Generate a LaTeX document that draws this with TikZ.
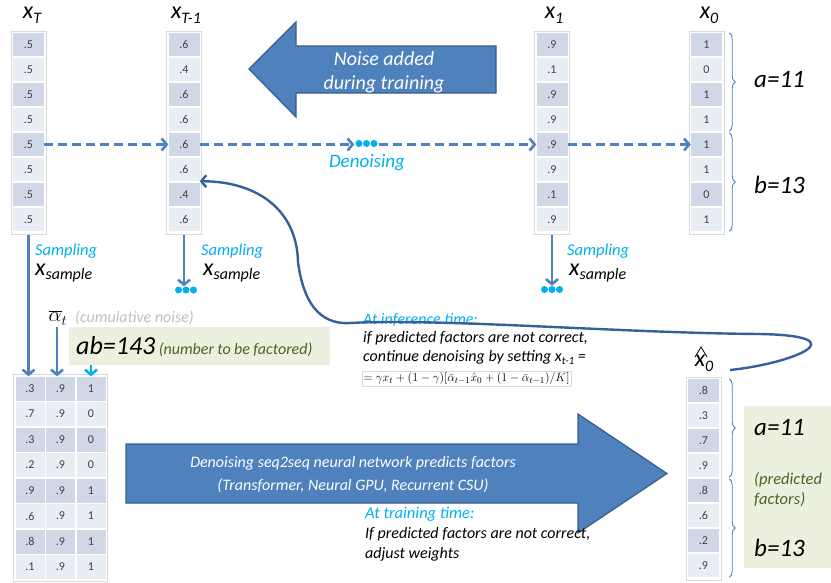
\documentclass[tikz,border=0pt]{standalone}
\usepackage[no-math]{fontspec}
\setmainfont{Carlito}
\usetikzlibrary{arrows.meta,decorations.pathreplacing,calc}
\definecolor{cellD}{HTML}{D0D8E8}
\definecolor{cellL}{HTML}{E9EDF4}
\definecolor{frameC}{HTML}{D9D9D9}
\definecolor{blueA}{HTML}{4F81BD}
\definecolor{blueB}{HTML}{385D8A}
\definecolor{blueC}{HTML}{36609A}
\definecolor{cyanA}{HTML}{00B0F0}
\definecolor{greenBg}{HTML}{EBF1DE}
\definecolor{greenT}{HTML}{4F6228}
\definecolor{numC}{HTML}{404040}
\definecolor{grayT}{HTML}{BFBFBF}
\newcommand\fs[1]{\fontsize{#1}{#1}\selectfont}
\tikzset{
  cell/.style={minimum width=31pt, minimum height=23pt, inner sep=0pt, font=\fs{12}, text=numC},
  colframe/.style={draw=frameC, line width=0.8pt, fill=white, inner sep=0pt},
  barb/.style={-{Straight Barb[length=5pt,width=12pt]}},
  dasharrow/.style={blueA, line width=2.6pt, dash pattern=on 9pt off 5pt, barb},
  samplearrow/.style={blueA, line width=2.6pt, barb},
  curvearrow/.style={blueC, line width=2.4pt, barb},
  brc/.style={blueA, line width=0.9pt, decorate, decoration={brace, amplitude=6pt}},
  bigshape/.style={fill=blueA, draw=blueB, line width=1.2pt},
  cyantxt/.style={text=cyanA, font=\fs{16.5}\itshape, inner sep=0pt},
  blktxt/.style={text=black, font=\fs{16}\itshape, inner sep=0pt},
  lbl/.style={inner sep=0pt},
  fac/.style={inner sep=0pt, anchor=west, font=\fs{25}\itshape},
}
\newcommand\mkcol[4]{%
  \node[colframe, minimum width=35pt, minimum height=203.5pt, anchor=north] (#1) at (#2,{-#3+1.5}) {};
  \foreach \v [count=\i] in {#4} {
    \pgfmathtruncatemacro\odd{mod(\i,2)}
    \ifnum\odd=1 \colorlet{cc}{cellD}\else\colorlet{cc}{cellL}\fi
    \node[cell, fill=cc] (#1-\i) at (#2,{-#3-12.5-25*(\i-1)}) {\v};
  }%
}
\newcommand\xlab[1]{{\fs{24}\itshape x}\raisebox{-5pt}{\fs{16}\itshape #1}}
\newcommand\xsamp{{\fs{24}\itshape x}\raisebox{-3.5pt}{\fs{16}\itshape sample}}
\begin{document}
\begin{tikzpicture}[x=1pt,y=1pt]
\useasboundingbox (0,0) rectangle (831,-582);

% big arrows
\path[bigshape] (249,-69) -- (296,-22) -- (296,-46) -- (496,-46) -- (496,-93) -- (296,-93) -- (296,-117) -- cycle;
\node[text=white, font=\fontsize{20}{24}\selectfont\itshape, align=center] (noise) at (384,-72) {Noise added\\during training};
\path[bigshape] (126,-444) -- (578,-444) -- (578,-414) -- (667,-473.5) -- (578,-533) -- (578,-503) -- (126,-503) -- cycle;
\node[text=white, font=\fontsize{16}{23}\selectfont\itshape, align=center] (nn) at (353,-475) {Denoising seq2seq neural network predicts factors\\(Transformer, Neural GPU, Recurrent CSU)};

% columns
\mkcol{xT}{28.5}{32}{.5,.5,.5,.5,.5,.5,.5,.5}
\mkcol{xTm}{184}{32}{.6,.4,.6,.6,.6,.6,.4,.6}
\mkcol{xo}{552}{32}{.9,.1,.9,.9,.9,.9,.1,.9}
\mkcol{xz}{706.5}{32}{1,0,1,1,1,1,0,1}
\mkcol{xh}{703.5}{378}{.8,.3,.7,.9,.8,.6,.2,.9}

% column labels
\node[lbl] (lT) at (32,-15) {\xlab{T}};
\node[lbl] (lTm) at (186,-15) {\xlab{T-1}};
\node[lbl] (l1) at (554,-15) {\xlab{1}};
\node[lbl] (l0) at (709,-15) {\xlab{0}};
\node[lbl] (lh) at (704,-363) {\xlab{0}};
\draw[line width=0.8pt] ($(lh.west)+(0.5,6)$) -- ($(lh.west)+(6.5,16)$) -- ($(lh.west)+(12.5,6)$);

% bottom table
\node[colframe, minimum width=94pt, minimum height=207pt, anchor=north west] (bt) at (13,-374) {};
\foreach \a/\b/\c [count=\i] in {.3/.9/1,.7/.9/0,.3/.9/0,.2/.9/0,.9/.9/1,.6/.9/1,.8/.9/1,.1/.9/1} {
  \pgfmathtruncatemacro\odd{mod(\i,2)}
  \ifnum\odd=1 \colorlet{cc}{cellD}\else\colorlet{cc}{cellL}\fi
  \node[cell, fill=cc, minimum width=29pt, minimum height=24pt] (bta-\i) at (30,{-376-12.5-25.5*(\i-1)}) {\a};
  \node[cell, fill=cc, minimum width=29pt, minimum height=24pt] (btb-\i) at (60.5,{-376-12.5-25.5*(\i-1)}) {\b};
  \node[cell, fill=cc, minimum width=29pt, minimum height=24pt] (btc-\i) at (91,{-376-12.5-25.5*(\i-1)}) {\c};
}

% denoising chain
\node[minimum width=24pt, minimum height=8pt, inner sep=0pt] (dA) at (366.5,-143.5) {};
\foreach \d in {-7.5,0,7.5} \fill[cyanA] ($(dA.center)+(\d,0)$) circle (3.5);
\draw[dasharrow] (xT-5.east) -- (xTm-5.west);
\draw[dasharrow] (xTm-5.east) -- (dA.west |- xTm-5.east);
\draw[dasharrow] (dA.east |- xo-5.west) -- (xo-5.west);
\draw[dasharrow] (xo-5.east) -- (xz-5.west);
\node[cyantxt, font=\fs{19}\itshape] (den) at (367,-163) {Denoising};

% braces
\draw[brc] ($(xz-1.north east)+(7,0)$) -- ($(xz-4.south east)+(7,0)$);
\draw[brc] ($(xz-5.north east)+(7,0)$) -- ($(xz-8.south east)+(7,0)$);
\node[fac] (a1) at (754,-80) {a=11};
\node[fac] (b1) at (754,-185) {b=13};

% sampling
\node[minimum width=22pt, minimum height=7pt, inner sep=0pt] (dB) at (186,-290) {};
\foreach \d in {-7.5,0,7.5} \fill[cyanA] ($(dB.center)+(\d,0)$) circle (3.5);
\node[minimum width=22pt, minimum height=7pt, inner sep=0pt] (dC) at (552,-289.5) {};
\foreach \d in {-7.5,0,7.5} \fill[cyanA] ($(dC.center)+(\d,0)$) circle (3.5);
\draw[samplearrow] (xTm.south) -- (xTm.south |- dB.north);
\draw[samplearrow] (xo.south) -- (xo.south |- dC.north);
\node[cyantxt, anchor=west] (s1) at (35,-251) {Sampling};
\node[lbl, anchor=west] (x1s) at (35,-273) {\xsamp};
\node[cyantxt, anchor=west] (s2) at (201,-251) {Sampling};
\node[lbl, anchor=west] (x2s) at (203,-273) {\xsamp};
\node[cyantxt, anchor=west] (s3) at (567,-251) {Sampling};
\node[lbl, anchor=west] (x3s) at (569,-273) {\xsamp};

% inputs to network
\draw[samplearrow] (xT.south) -- (xT.south |- bta-1.north);
\node[lbl] (alpha) at (58,-318) {\fs{22}$\overline{\alpha}_t$};
\node[lbl, anchor=west, text=grayT, font=\fs{16}\itshape] (cum) at (75,-318) {(cumulative noise)};
\draw[samplearrow] ($(alpha.south)+(-1,-2)$) -- ($(alpha.south |- btb-1.north)+(-1,0)$);
\node[fill=greenBg, anchor=north west, minimum height=38pt, text width=247pt, inner xsep=7pt, align=left] (ab) at (69,-327) {{\fs{26}\itshape ab=143} {\fs{16}\itshape\color{greenT}(number to be factored)}};
\draw[cyanA, line width=2.6pt, barb] (ab.south -| btc-1) -- (btc-1.north);

% inference text
\node[cyantxt, font=\fs{16}\itshape, anchor=west] (inf) at (363,-319.5) {At inference time:};
\node[blktxt, anchor=west] (inf2) at (363,-338.5) {if predicted factors are not correct,};
\node[blktxt, anchor=west] (inf3) at (363,-357) {continue denoising by setting x\raisebox{-3pt}{\fs{11}t-1} =};
\node[draw=frameC, fill=white, anchor=north west, inner sep=1.3pt] (fm) at (362,-371) {\fs{12.6}$=\gamma x_t+(1-\gamma)[\bar\alpha_{t-1}\hat x_0+(1-\bar\alpha_{t-1})/K]$};

% training text
\node[cyantxt, anchor=west] (tr) at (365,-514) {At training time:};
\node[blktxt, anchor=west] (tr2) at (365,-534) {If predicted factors are not correct,};
\node[blktxt, anchor=west] (tr3) at (365,-554) {adjust weights};

% predicted factors
\node[fill=greenBg, anchor=north west, minimum width=87pt, minimum height=162pt, inner sep=0pt] (pf) at (744,-406) {};
\draw[brc] ($(xh-1.north east)+(10,0)$) -- ($(xh-4.south east)+(10,0)$);
\draw[brc] ($(xh-5.north east)+(10,0)$) -- ($(xh-8.south east)+(10,0)$);
\node[fac] (a2) at (754,-428) {a=11};
\node[lbl, anchor=west, align=left, text=greenT, font=\fontsize{16.5}{20}\selectfont\itshape] (pr) at (754,-490) {(predicted\\factors)};
\node[fac] (b2) at (754,-548) {b=13};

% feedback curve
\coordinate (cs) at (730,-370);
\draw[curvearrow] (cs) .. controls (790,-364) and (862,-336) .. (760,-334)
  .. controls (620,-333) and (440,-318) .. (350,-323)
  .. controls (318,-325) and (303,-300) .. (298,-262)
  .. controls (297,-212) and (260,-181.5) .. (xTm-6.south east);
\end{tikzpicture}
\end{document}
